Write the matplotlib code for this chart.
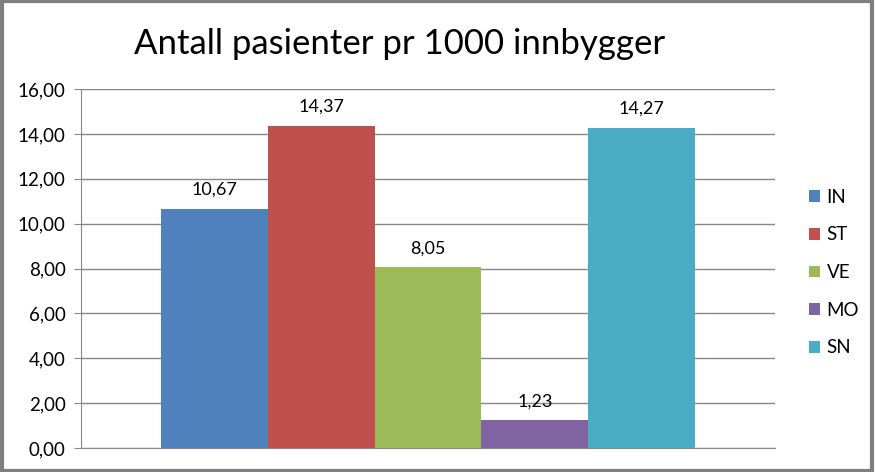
import matplotlib.pyplot as plt
from matplotlib.patches import Rectangle

regions = ['IN', 'ST', 'VE', 'MO', 'SN']
values = [10.67, 14.37, 8.05, 1.23, 14.27]
colors = ['#4F81BD', '#C0504D', '#9BBB59', '#8064A2', '#4BACC6']
title = 'Antall pasienter pr 1000 innbygger'

plt.rcParams['font.family'] = ['Lato', 'DejaVu Sans']

fig = plt.figure(figsize=(8.75, 4.72), dpi=100)
ax = fig.add_axes([81 / 875, 1 - 448 / 472, (775 - 81) / 875, (448 - 89) / 472])

for i, (name, v, c) in enumerate(zip(regions, values, colors)):
    ax.bar(i, v, width=1.0, color=c, label=name, zorder=3)
    ax.text(i, v + 0.5, f'{v:.2f}'.replace('.', ','), ha='center', va='bottom',
            fontsize=13, color='black')

ax.set_xlim(-1.25, 5.25)
ax.set_ylim(0, 16)
ax.set_yticks(range(0, 17, 2))
ax.set_yticklabels([f'{t:.2f}'.replace('.', ',') for t in range(0, 17, 2)], fontsize=13.5)
ax.set_xticks([])
ax.yaxis.grid(True, color='#878787', linewidth=1, zorder=0)
for s in ['top', 'right']:
    ax.spines[s].set_visible(False)
for s in ['left', 'bottom']:
    ax.spines[s].set_color('#878787')
ax.tick_params(axis='y', length=5, color='#878787', pad=6)

fig.text(400 / 875, 1 - 44 / 472, title, ha='center', va='center', fontsize=25)

fig.legend(loc='upper left', bbox_to_anchor=(792 / 875, 1 - 172 / 472), frameon=False,
           fontsize=13.5, handlelength=0.6, handleheight=0.6, handletextpad=0.35,
           labelspacing=1.1)

fig.patches.append(Rectangle((0.002, 0.003), 0.994, 0.994, transform=fig.transFigure,
                             fill=False, edgecolor='#7f7f7f', linewidth=3))

fig.savefig('out.png', dpi=100)
